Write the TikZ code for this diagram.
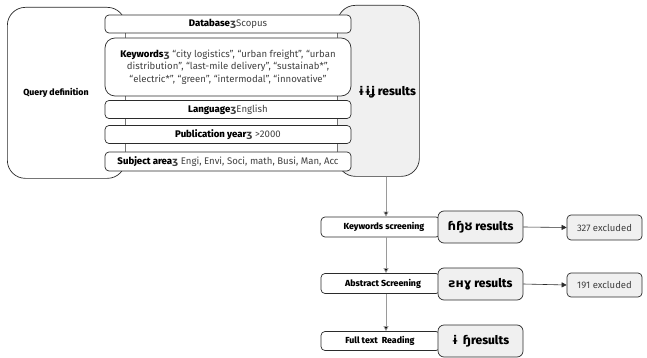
\documentclass[tikz,border=0pt]{standalone}
\usepackage{fontspec}
\setmainfont{Fira Sans}[BoldFont={Fira Sans ExtraBold}]
\newfontfamily\glyph{DejaVu Sans}
\usetikzlibrary{arrows.meta}
\definecolor{edge}{HTML}{2B2B2B}
\definecolor{panel}{HTML}{F0F0F0}
\definecolor{valtext}{HTML}{404040}
\definecolor{flowline}{HTML}{9A9A9A}
\newcommand{\sep}{{\glyph\bfseries ʒ}}
\tikzset{
  bigbox/.style={draw=edge, line width=0.7pt, rounded corners=18pt, anchor=north west, inner sep=0pt},
  rowbox/.style={draw=edge, fill=white, line width=0.7pt, rounded corners=4pt, minimum width=246pt, inner sep=0pt, font=\fontsize{9.6}{11}\selectfont, text=valtext},
  stepbox/.style={draw=edge, fill=white, line width=0.7pt, rounded corners=4pt, minimum width=119pt, inner sep=0pt},
  resbox/.style={draw=edge, fill=panel, line width=0.7pt, rounded corners=6pt, minimum width=85pt, minimum height=32pt, inner sep=0pt, font=\fontsize{12}{14}\selectfont\bfseries},
  exbox/.style={draw=edge, fill=panel, line width=0.7pt, rounded corners=4pt, minimum width=75pt, inner sep=0pt, font=\fontsize{9.5}{11}\selectfont, text=valtext},
  steptext/.style={font=\fontsize{8.8}{10}\selectfont\bfseries},
  flow/.style={draw=flowline, line width=0.8pt, -{Triangle[length=5pt,width=5pt,fill=black]}},
  toex/.style={draw=edge, line width=0.6pt, -{Triangle[length=5pt,width=5pt]}},
}
\begin{document}
\begin{tikzpicture}[x=1pt,y=-1pt]
\useasboundingbox (0,0) rectangle (647,358);

% the two large panels behind the query rows
\node[bigbox, fill=white, minimum width=118pt, minimum height=171pt] (query) at (7,7) {};
\node[bigbox, fill=panel, minimum width=82pt, minimum height=171pt] (hits) at (337,5) {};
\node[font=\fontsize{8.8}{10}\selectfont\bfseries] (querytxt) at (56,93) {Query definition};
\node[font=\fontsize{12}{14}\selectfont\bfseries] (hitstxt) at (387,92) {{\glyph ɨɨʝ} results};

% query rows
\node[rowbox, minimum height=18pt] (db) at (228,24) {\textbf{\textcolor{black}{Database}}\sep Scopus};
\node[rowbox, rounded corners=10pt, minimum height=58pt, align=center, font=\fontsize{9.6}{12.5}\selectfont] (kw) at (228,67)
  {\textbf{\textcolor{black}{Keywords}}\sep{} “city logistics”, “urban freight”, “urban\\
   distribution”, “last-mile delivery”, “sustainab*”,\\
   “electric*”, “green”, “intermodal”, “innovative”};
\node[rowbox, minimum height=18pt] (lang) at (228,109.5) {\textbf{\textcolor{black}{Language}}\sep English};
\node[rowbox, minimum height=18pt] (pub) at (228,134.5) {\textbf{\textcolor{black}{Publication year}}\sep{} >2000};
\node[rowbox, minimum height=19pt] (subj) at (228,161.5) {\textbf{\textcolor{black}{Subject area}}\sep{} Engi, Envi, Soci, math, Busi, Man, Acc};

% screening steps
\node[stepbox, minimum height=20pt] (ks) at (380.5,227) {};
\node[stepbox, minimum height=20pt] (as) at (380.5,283.5) {};
\node[stepbox, minimum height=19pt] (ft) at (380.5,341) {};
\node[steptext] (kstxt) at (384,227) {Keywords screening};
\node[steptext] (astxt) at (383,283.5) {Abstract Screening};
\node[steptext] (fttxt) at (380,341) {Full text\ \ Reading};

\node[resbox] (ksres) at (480.5,227) {{\glyph ɦɧȣ} results};
\node[resbox] (asres) at (480.5,284) {{\glyph ƨнɣ} results};
\node[resbox] (ftres) at (480.5,341) {{\glyph ɨ ɧ}results};

\node[exbox, minimum height=25pt] (ksex) at (604.5,227.5) {327 excluded};
\node[exbox, minimum height=24pt] (asex) at (604.5,285) {191 excluded};

% connectors
\coordinate (spine) at (386,0);
\draw[flow] (hits.south -| spine) -- (ks.north -| spine);
\draw[flow] (ks.south -| spine) -- (as.north -| spine);
\draw[flow] (as.south -| spine) -- (ft.north -| spine);
\draw[toex] (ksres.east) -- (ksex.west);
\draw[toex] (asres.east) -- (asex.west);
\end{tikzpicture}
\end{document}
